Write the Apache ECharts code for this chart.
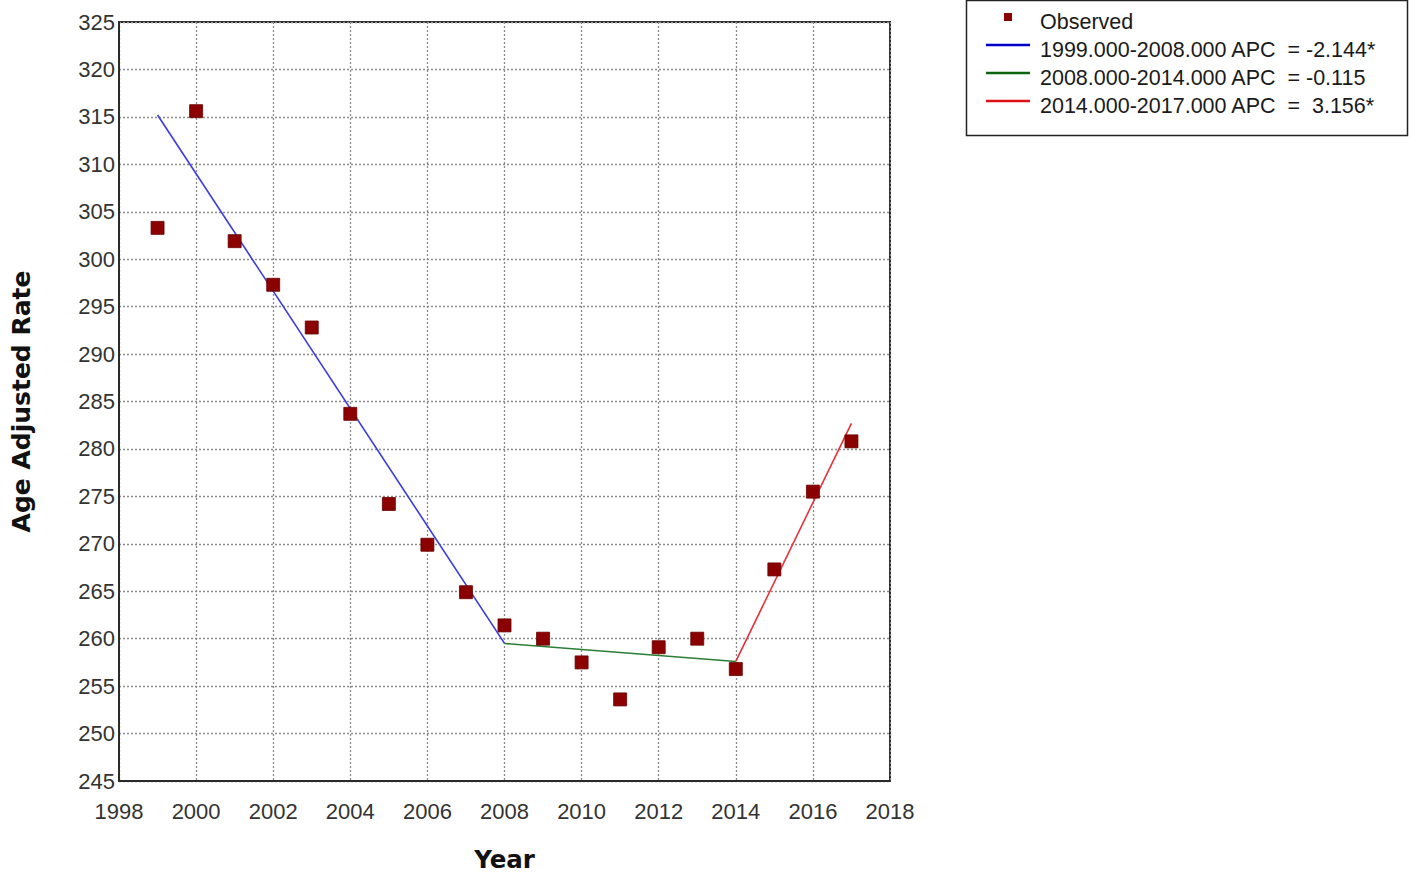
<!DOCTYPE html>
<html>
<head>
<meta charset="utf-8">
<script src="https://cdn.jsdelivr.net/npm/echarts@6/dist/echarts.min.js"></script>
<style>
html,body{margin:0;padding:0;background:#fff;}
#chart{width:1410px;height:872px;}
</style>
</head>
<body>
<div id="chart"></div>
<script>
// ---- data ----
const years = [1999,2000,2001,2002,2003,2004,2005,2006,2007,2008,2009,2010,2011,2012,2013,2014,2015,2016,2017];
const observed = [303.3,315.6,301.9,297.3,292.8,283.7,274.2,269.9,264.9,261.4,260.0,257.5,253.6,259.1,260.0,256.8,267.3,275.5,280.8];
const seg1 = [[1999,315.2],[2008,259.5]];
const seg2 = [[2008,259.5],[2014,257.6]];
const seg3 = [[2014,257.6],[2017,282.7]];
const legendLabels = [
  'Observed',
  '1999.000-2008.000 APC\u00a0\u00a0=\u00a0-2.144*',
  '2008.000-2014.000 APC\u00a0\u00a0=\u00a0-0.115',
  '2014.000-2017.000 APC\u00a0\u00a0=\u00a0\u00a03.156*'
];
const colors = ['#8b0000','#3a3ae0','#2a7f35','#e8303c'];
const legendLineColors = ['#8b0000','#0000c8','#0b640b','#dd1111'];

const font = '"Liberation Sans", Arial, sans-serif';
const chart = echarts.init(document.getElementById('chart'), null, {renderer:'svg'});

const gridStyle = {show:true, lineStyle:{color:'#8a8a8a', type:[2,2], width:1.3}};

const legendGraphics = [
  {type:'rect', shape:{x:966.5,y:0.5,width:441,height:135}, style:{fill:'#fff',stroke:'#222',lineWidth:1.5}, z:10},
  {type:'rect', shape:{x:1004,y:13,width:8,height:8}, style:{fill:legendLineColors[0]}, z:11},
  {type:'line', shape:{x1:986,y1:45,x2:1030,y2:45}, style:{stroke:legendLineColors[1],lineWidth:2.5}, z:11},
  {type:'line', shape:{x1:986,y1:73,x2:1030,y2:73}, style:{stroke:legendLineColors[2],lineWidth:2.5}, z:11},
  {type:'line', shape:{x1:986,y1:101,x2:1030,y2:101}, style:{stroke:legendLineColors[3],lineWidth:2.5}, z:11}
];
[22,50,78,106].forEach((y,i)=>{
  legendGraphics.push({type:'text', x:1040, y:y, z:11,
    style:{text:legendLabels[i], font:'21.5px ' + font, fill:'#1a1a1a', textVerticalAlign:'middle', verticalAlign:'middle'}});
});

const nameFontX = {fontFamily:'"DejaVu Sans", Verdana, sans-serif', fontWeight:'bold', fontSize:24.5, lineHeight:24, color:'#111'};
const nameFontY = {fontFamily:'"DejaVu Sans", Verdana, sans-serif', fontWeight:'bold', fontSize:25, color:'#111'};

const option = {
  backgroundColor:'#fff',
  animation:false,
  grid:{left:119, right:520, top:22, bottom:91, show:true, borderColor:'#2b2b2b', borderWidth:2, containLabel:false, outerBoundsMode:'none'},
  xAxis:{
    type:'value', min:1998, max:2018, interval:2,
    name:'Year', nameLocation:'middle', nameGap:66,
    nameTextStyle:nameFontX,
    axisLine:{show:true, lineStyle:{color:'#2b2b2b', width:2}},
    axisTick:{show:false},
    axisLabel:{fontFamily:font, fontSize:22, color:'#333', margin:19, formatter:v=>String(v)},
    splitLine:gridStyle
  },
  yAxis:{
    type:'value', min:245, max:325, interval:5,
    name:'Age Adjusted Rate', nameLocation:'middle', nameGap:85,
    nameTextStyle:nameFontY,
    axisLine:{show:true, lineStyle:{color:'#2b2b2b', width:2}},
    axisTick:{show:false},
    axisLabel:{fontFamily:font, fontSize:22, color:'#333', margin:4},
    splitLine:gridStyle
  },
  series:[
    {name:legendLabels[1], type:'line', data:seg1, symbol:'none', lineStyle:{color:colors[1], width:1.6}, z:3},
    {name:legendLabels[2], type:'line', data:seg2, symbol:'none', lineStyle:{color:colors[2], width:1.6}, z:3},
    {name:legendLabels[3], type:'line', data:seg3, symbol:'none', lineStyle:{color:colors[3], width:1.6}, z:3},
    {name:legendLabels[0], type:'scatter', data:years.map((y,i)=>[y,observed[i]]),
     symbol:'rect', symbolSize:13, itemStyle:{color:colors[0], borderColor:'#6a0000', borderWidth:0.8, opacity:1}, z:4}
  ],
  graphic:legendGraphics
};
chart.setOption(option);
</script>
</body>
</html>
